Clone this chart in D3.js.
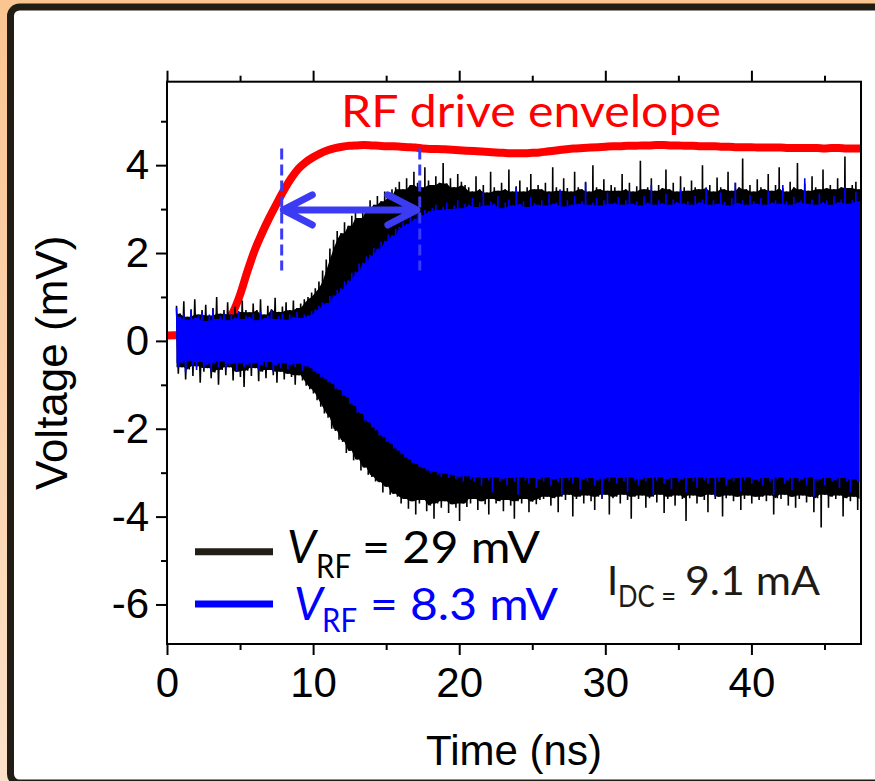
<!DOCTYPE html>
<html>
<head>
<meta charset="utf-8">
<script src="https://cdn.jsdelivr.net/npm/d3@7"></script>
<style>
  html, body { margin: 0; padding: 0; background: #fff; }
  svg { display: block; }
</style>
</head>
<body>
<svg id="chart" width="875" height="781"></svg>
<script>
// ---- axis setup ----
const xDomain = [0, 47.5];
const yDomain = [-6.9, 5.9];
const xTicksMajor = [0, 10, 20, 30, 40];
const xTicksMinor = [5, 15, 25, 35, 45];
const yTicksMajor = [-6, -4, -2, 0, 2, 4];
const yTicksMinor = [-5, -3, -1, 1, 3, 5];
const xTitle = "Time (ns)";
const yTitle = "Voltage (mV)";

// ---- RF drive envelope (mV), sampled every 0.5 ns from t = 0 ----
const envStart = 0, envStep = 0.5;
const rfEnvelope = [
  0.12,0.13,0.13,0.14,0.15,0.17,0.21,0.28,0.40,0.64,
  1.05,1.58,2.06,2.45,2.80,3.12,3.43,3.70,3.92,4.07,
  4.18,4.27,4.34,4.39,4.42,4.44,4.45,4.46,4.45,4.44,
  4.43,4.43,4.42,4.41,4.40,4.38,4.37,4.37,4.36,4.35,
  4.34,4.33,4.32,4.31,4.30,4.29,4.28,4.27,4.27,4.27,
  4.28,4.29,4.31,4.33,4.35,4.37,4.38,4.39,4.40,4.41,
  4.42,4.43,4.43,4.44,4.44,4.45,4.45,4.46,4.46,4.45,
  4.45,4.44,4.44,4.43,4.43,4.43,4.42,4.42,4.41,4.41,
  4.41,4.40,4.40,4.40,4.40,4.39,4.39,4.39,4.39,4.39,
  4.38,4.39,4.39,4.38,4.38,4.38
];

// ---- oscillation peaks (mV): positive / negative peak per 0.25 ns sample ----
const sampleStart = 0.65, sampleStep = 0.25;

const vrf29High = [
  0.80,0.62,0.90,0.55,0.72,0.95,0.60,0.70,0.82,0.58,0.75,1.00,0.62,0.70,0.88,0.60,0.78,0.66,0.92,0.70,
  0.65,0.85,0.70,0.95,0.60,0.80,0.72,0.98,0.66,0.78,0.88,0.70,0.92,0.75,0.85,0.95,1.00,1.10,1.20,1.35,
  1.60,1.85,2.10,2.30,2.50,2.45,2.70,2.62,2.85,2.95,2.80,3.05,3.00,3.20,3.10,3.30,3.18,3.40,3.30,3.45,
  3.50,3.62,3.45,3.70,3.55,3.85,3.60,3.50,3.95,3.65,3.55,3.75,3.60,4.05,3.58,3.70,3.50,3.80,3.62,3.55,
  3.50,3.40,3.75,3.45,3.55,3.38,3.85,3.50,3.42,3.60,3.45,3.90,3.40,3.52,3.65,3.40,3.50,3.80,3.45,3.55,
  3.45,3.60,3.40,3.95,3.50,3.42,3.70,3.48,3.40,3.85,3.50,3.45,3.62,3.40,4.00,3.50,3.45,3.68,3.42,3.55,
  3.50,3.42,3.80,3.45,3.60,3.40,3.52,4.10,3.45,3.50,3.70,3.42,3.55,3.48,3.90,3.45,3.60,3.40,3.75,3.50,
  3.42,3.65,3.50,3.45,4.00,3.48,3.55,3.40,3.72,3.50,3.45,3.85,3.42,3.60,3.50,4.15,3.45,3.55,3.40,3.68,
  3.50,3.45,3.80,3.42,3.55,3.95,3.48,3.40,3.62,3.50,4.05,3.45,3.58,3.42,3.75,3.50,3.45,3.90,3.48,3.55,
  3.45,3.70,3.50,4.20,3.48,3.55,3.62,3.45
];
const vrf29Low = [
  -0.75,-0.60,-0.88,-0.65,-0.80,-0.58,-0.95,-0.70,-0.62,-0.85,-0.72,-1.00,-0.66,-0.78,-0.60,-0.90,-0.70,-0.82,-1.05,-0.68,
  -0.80,-0.62,-0.92,-0.70,-0.85,-0.66,-0.78,-0.95,-0.70,-0.88,-0.75,-0.82,-1.00,-0.78,-0.90,-1.02,-1.10,-1.20,-1.35,-1.50,
  -1.65,-1.75,-2.00,-2.05,-2.25,-2.30,-2.55,-2.50,-2.72,-2.70,-2.95,-2.88,-3.05,-3.10,-3.20,-3.22,-3.45,-3.32,-3.50,-3.48,
  -3.55,-3.70,-3.60,-3.82,-3.65,-3.95,-3.70,-3.62,-3.88,-3.75,-4.05,-3.70,-3.80,-3.65,-3.92,-3.72,-3.80,-4.10,-3.70,-3.78,
  -3.70,-3.60,-3.85,-3.65,-3.72,-3.95,-3.60,-3.70,-3.65,-3.88,-3.62,-3.75,-4.05,-3.65,-3.70,-3.60,-3.90,-3.66,-3.72,-3.62,
  -3.60,-3.55,-3.75,-3.58,-3.90,-3.55,-3.62,-3.50,-4.00,-3.60,-3.55,-3.70,-3.52,-3.65,-3.85,-3.55,-3.60,-3.50,-3.95,-3.58,
  -3.55,-3.70,-3.50,-3.62,-4.05,-3.55,-3.60,-3.52,-3.80,-3.58,-3.55,-3.68,-3.50,-3.92,-3.60,-3.55,-3.75,-3.52,-3.60,-4.10,
  -3.58,-3.52,-3.70,-3.55,-3.62,-3.90,-3.50,-3.60,-3.55,-4.00,-3.58,-3.52,-3.65,-3.55,-3.85,-3.60,-3.52,-3.70,-3.55,-3.62,
  -3.55,-3.65,-3.52,-3.95,-3.58,-3.60,-3.50,-3.75,-3.55,-3.80,-3.60,-3.52,-3.68,-3.55,-3.90,-3.58,-4.25,-3.50,-3.80,-3.55,
  -3.60,-3.52,-4.00,-3.58,-3.65,-3.55,-3.85,-3.60
];
const vrf83High = [
  0.75,0.55,0.62,0.48,0.70,0.52,0.58,0.66,0.45,0.60,0.72,0.50,0.56,0.64,0.47,0.60,0.53,0.68,0.50,0.58,
  0.55,0.62,0.47,0.66,0.52,0.58,0.70,0.50,0.57,0.63,0.48,0.60,0.55,0.66,0.52,0.60,0.58,0.68,0.72,0.80,
  0.88,0.86,1.02,1.04,1.16,1.20,1.36,1.38,1.55,1.58,1.76,1.78,1.92,1.96,2.12,2.10,2.26,2.28,2.42,2.40,
  2.55,2.60,2.70,2.66,2.82,2.78,2.90,2.86,2.98,2.95,3.02,3.10,2.98,3.05,3.15,3.00,3.08,3.20,3.02,3.12,
  3.10,3.25,3.05,3.15,3.40,3.08,3.18,3.12,3.30,3.02,3.15,3.22,3.08,3.50,3.12,3.18,3.05,3.28,3.14,3.10,
  3.20,3.08,3.35,3.12,3.15,3.45,3.06,3.20,3.10,3.30,3.12,3.18,3.60,3.10,3.15,3.25,3.08,3.20,3.38,3.12,
  3.15,3.28,3.10,3.20,3.42,3.12,3.18,3.08,3.30,3.15,3.55,3.10,3.20,3.14,3.35,3.10,3.22,3.16,3.45,3.12,
  3.18,3.10,3.30,3.15,3.22,3.50,3.10,3.20,3.12,3.38,3.16,3.08,3.25,3.60,3.14,3.20,3.10,3.32,3.18,3.12,
  3.25,3.10,3.42,3.15,3.20,3.12,3.55,3.18,3.10,3.28,3.15,3.20,3.70,3.12,3.22,3.10,3.35,3.16,3.20,3.10,
  3.30,3.15,3.22,3.50,3.12,3.20,3.40,3.18
];
const vrf83Low = [
  -0.60,-0.50,-0.72,-0.45,-0.58,-0.66,-0.48,-0.62,-0.55,-0.70,-0.50,-0.60,-0.46,-0.65,-0.57,-0.52,-0.68,-0.50,-0.60,-0.55,
  -0.62,-0.50,-0.66,-0.55,-0.60,-0.48,-0.70,-0.56,-0.62,-0.50,-0.65,-0.55,-0.60,-0.52,-0.68,-0.58,-0.62,-0.70,-0.75,-0.82,
  -0.86,-0.94,-0.98,-1.10,-1.12,-1.25,-1.28,-1.44,-1.48,-1.64,-1.66,-1.82,-1.86,-1.98,-2.04,-2.16,-2.18,-2.30,-2.34,-2.45,
  -2.50,-2.58,-2.65,-2.70,-2.78,-2.80,-2.88,-2.90,-2.95,-3.00,-2.98,-3.05,-3.10,-3.02,-3.12,-3.05,-3.15,-3.10,-3.20,-3.08,
  -3.15,-3.20,-3.10,-3.30,-3.12,-3.18,-3.45,-3.10,-3.20,-3.15,-3.28,-3.12,-3.20,-3.50,-3.10,-3.18,-3.25,-3.12,-3.35,-3.15,
  -3.20,-3.10,-3.30,-3.15,-3.22,-3.50,-3.12,-3.18,-3.25,-3.10,-3.40,-3.16,-3.20,-3.12,-3.30,-3.18,-3.55,-3.14,-3.20,-3.10,
  -3.25,-3.12,-3.20,-3.45,-3.10,-3.18,-3.30,-3.15,-3.20,-3.12,-3.50,-3.18,-3.10,-3.25,-3.15,-3.38,-3.12,-3.20,-3.16,-3.45,
  -3.12,-3.20,-3.35,-3.10,-3.18,-3.25,-3.12,-3.55,-3.20,-3.10,-3.30,-3.15,-3.20,-3.12,-3.42,-3.18,-3.10,-3.25,-3.16,-3.20,
  -3.30,-3.12,-3.20,-3.50,-3.15,-3.10,-3.25,-3.18,-3.40,-3.12,-3.20,-3.16,-3.30,-3.10,-3.55,-3.20,-3.15,-3.28,-3.12,-3.20,
  -3.18,-3.35,-3.12,-3.20,-3.45,-3.15,-3.22,-3.30
];

// ---- annotation values ----
const delayMarkers = [7.85, 17.3];      // ns, dashed markers
const markerSpan = [1.6, 4.38];         // mV, vertical extent of the dashed markers
const delayArrow = { from: 7.96, to: 17.1, level: 2.98 };

const legendItems = [
  { sub: "RF", rest: "= 29 mV", color: "#000000", line: "#221e16" },
  { sub: "RF", rest: "= 8.3 mV", color: "#0000ff", line: "#0000ff" }
];

// ---- layout ----
const W = 875, H = 781;
const plot = { left: 167, top: 81.7, right: 861, bottom: 644 };
const x = d3.scaleLinear().domain(xDomain).range([plot.left, plot.right]);
const y = d3.scaleLinear().domain(yDomain).range([plot.bottom, plot.top]);

const svg = d3.select("#chart");
const defs = svg.append("defs");

const bg = defs.append("linearGradient").attr("id", "bg")
  .attr("x1", 0).attr("y1", 0).attr("x2", 0).attr("y2", 1);
bg.append("stop").attr("offset", "0%").attr("stop-color", "#fbc592");
bg.append("stop").attr("offset", "100%").attr("stop-color", "#fde1c9");

defs.append("clipPath").attr("id", "plotClip")
  .append("rect")
  .attr("x", plot.left).attr("y", plot.top)
  .attr("width", plot.right - plot.left).attr("height", plot.bottom - plot.top);

// slide frame
svg.append("rect").attr("width", W).attr("height", H).attr("fill", "url(#bg)");
svg.append("rect")
  .attr("x", 10.5).attr("y", 7).attr("width", 900).attr("height", 776)
  .attr("rx", 9).attr("fill", "#ffffff")
  .attr("stroke", "#211d14").attr("stroke-width", 7);

const content = svg.append("g").attr("clip-path", "url(#plotClip)");

// RF drive envelope (drawn beneath the traces)
const envLine = d3.line()
  .x((d, i) => x(envStart + i * envStep))
  .y(d => y(d))
  .curve(d3.curveMonotoneX);
content.append("path")
  .datum(rfEnvelope)
  .attr("d", envLine)
  .attr("fill", "none")
  .attr("stroke", "#ff0000")
  .attr("stroke-width", 8)
  .attr("stroke-linejoin", "round");

// oscillation trace: a dense core plus the individual peak strokes
function trace(high, low, color) {
  const tAt = i => sampleStart + i * sampleStep;
  // core: the band that every neighbouring cycle fills
  const core = high.map((h, i) => {
    const j0 = Math.max(0, i - 1), j1 = Math.min(high.length - 1, i + 1);
    return {
      t: tAt(i),
      hi: d3.min(high.slice(j0, j1 + 1)),
      lo: d3.max(low.slice(j0, j1 + 1))
    };
  });
  content.append("path")
    .datum(core)
    .attr("d", d3.area().x(d => x(d.t)).y0(d => y(d.lo)).y1(d => y(d.hi)))
    .attr("fill", color);
  // the waveform itself, swinging between positive and negative peaks
  const swing = [];
  high.forEach((h, i) => {
    swing.push([tAt(i), h]);
    swing.push([tAt(i) + sampleStep / 2, low[i]]);
  });
  content.append("path")
    .datum(swing)
    .attr("d", d3.line().x(d => x(d[0])).y(d => y(d[1])))
    .attr("fill", "none")
    .attr("stroke", color)
    .attr("stroke-width", 1.6)
    .attr("stroke-linejoin", "miter")
    .attr("stroke-miterlimit", 2);
}
trace(vrf29High, vrf29Low, "#000000");
trace(vrf83High, vrf83Low, "#0000ff");

// dashed delay markers
const markColor = "#3b3bf3";
content.selectAll("line.marker")
  .data(delayMarkers)
  .join("line")
  .attr("class", "marker")
  .attr("x1", d => x(d)).attr("x2", d => x(d))
  .attr("y1", y(markerSpan[1])).attr("y2", y(markerSpan[0]))
  .attr("stroke", markColor)
  .attr("stroke-width", 3)
  .attr("stroke-dasharray", "11,5");

// double-headed delay arrow
{
  const xa = x(delayArrow.from), xb = x(delayArrow.to), ya = y(delayArrow.level);
  const hx = 29, hy = 15;
  const p = d3.path();
  p.moveTo(xa, ya); p.lineTo(xb, ya);
  p.moveTo(xa + hx, ya - hy); p.lineTo(xa, ya); p.lineTo(xa + hx, ya + hy);
  p.moveTo(xb - hx, ya - hy); p.lineTo(xb, ya); p.lineTo(xb - hx, ya + hy);
  svg.append("path")
    .attr("d", p.toString())
    .attr("fill", "none")
    .attr("stroke", markColor)
    .attr("stroke-width", 7)
    .attr("stroke-linecap", "round")
    .attr("stroke-linejoin", "round");
}

// ---- axes ----
const axisFont = "'Liberation Sans', Arial, sans-serif";
const plainNumber = d => String(d);
function styleAxis(g) {
  g.selectAll("path.domain").remove();
  g.selectAll(".tick line").attr("stroke", "#000").attr("stroke-width", 2);
  g.selectAll(".tick text")
    .attr("fill", "#000")
    .style("font-family", axisFont)
    .style("font-size", "42px");
}

svg.append("g").attr("transform", `translate(0,${plot.bottom})`)
  .call(d3.axisBottom(x).tickValues(xTicksMajor).tickSize(11).tickPadding(12).tickFormat(plainNumber))
  .call(styleAxis);
svg.append("g").attr("transform", `translate(0,${plot.bottom})`)
  .call(d3.axisBottom(x).tickValues(xTicksMinor).tickSize(6).tickFormat(""))
  .call(styleAxis);
svg.append("g").attr("transform", `translate(0,${plot.top})`)
  .call(d3.axisTop(x).tickValues(xTicksMajor).tickSize(11).tickFormat(""))
  .call(styleAxis);
svg.append("g").attr("transform", `translate(0,${plot.top})`)
  .call(d3.axisTop(x).tickValues(xTicksMinor).tickSize(6).tickFormat(""))
  .call(styleAxis);
svg.append("g").attr("transform", `translate(${plot.left},0)`)
  .call(d3.axisLeft(y).tickValues(yTicksMajor).tickSize(11).tickPadding(7).tickFormat(plainNumber))
  .call(styleAxis);
svg.append("g").attr("transform", `translate(${plot.left},0)`)
  .call(d3.axisLeft(y).tickValues(yTicksMinor).tickSize(6).tickFormat(""))
  .call(styleAxis);

// plot frame
svg.append("rect")
  .attr("x", plot.left).attr("y", plot.top)
  .attr("width", plot.right - plot.left).attr("height", plot.bottom - plot.top)
  .attr("fill", "none").attr("stroke", "#000").attr("stroke-width", 2);

// axis titles
svg.append("text")
  .attr("x", (plot.left + plot.right) / 2).attr("y", 765)
  .attr("text-anchor", "middle")
  .style("font-family", axisFont).style("font-size", "42px")
  .attr("fill", "#000")
  .text(xTitle);
svg.append("text")
  .attr("transform", `translate(67,${(plot.top + plot.bottom) / 2}) rotate(-90)`)
  .attr("text-anchor", "middle")
  .style("font-family", axisFont).style("font-size", "44px")
  .attr("fill", "#000")
  .text(yTitle);

// ---- annotations ----
const noteFont = "Lato, 'Open Sans', sans-serif";
function note(txt, px, py, size, color, opts = {}) {
  const t = svg.append("text")
    .attr("x", px).attr("y", py)
    .style("font-family", noteFont)
    .style("font-size", size + "px")
    .attr("fill", color)
    .text(txt);
  if (opts.italic) t.style("font-style", "italic");
  if (opts.len) t.attr("textLength", opts.len).attr("lengthAdjust", "spacingAndGlyphs");
  return t;
}

note("RF drive envelope", 341, 127, 44, "#ff0000", { len: 380 });

// legend
const legendRows = [
  { lineY: 551.7, base: 563, subBase: 578, vx: 287, subX: 316, restX: 362, restLen: 178, subLen: 35 },
  { lineY: 604, base: 620, subBase: 632, vx: 294, subX: 322, restX: 370, restLen: 188, subLen: 35 }
];
legendItems.forEach((item, i) => {
  const r = legendRows[i];
  svg.append("line")
    .attr("x1", 195).attr("x2", 273)
    .attr("y1", r.lineY).attr("y2", r.lineY)
    .attr("stroke", item.line).attr("stroke-width", 7);
  note("V", r.vx, r.base, 46, item.color, { italic: true });
  note(item.sub, r.subX, r.subBase, 33, item.color, { len: r.subLen });
  note(item.rest, r.restX, r.base, 44, item.color, { len: r.restLen });
});

// bias current label
note("I", 607, 595, 40, "#1e1a14");
note("DC =", 618, 607, 30, "#1e1a14", { len: 58 });
note("9.1 mA", 685, 595, 40, "#1e1a14", { len: 135 });
</script>
</body>
</html>
